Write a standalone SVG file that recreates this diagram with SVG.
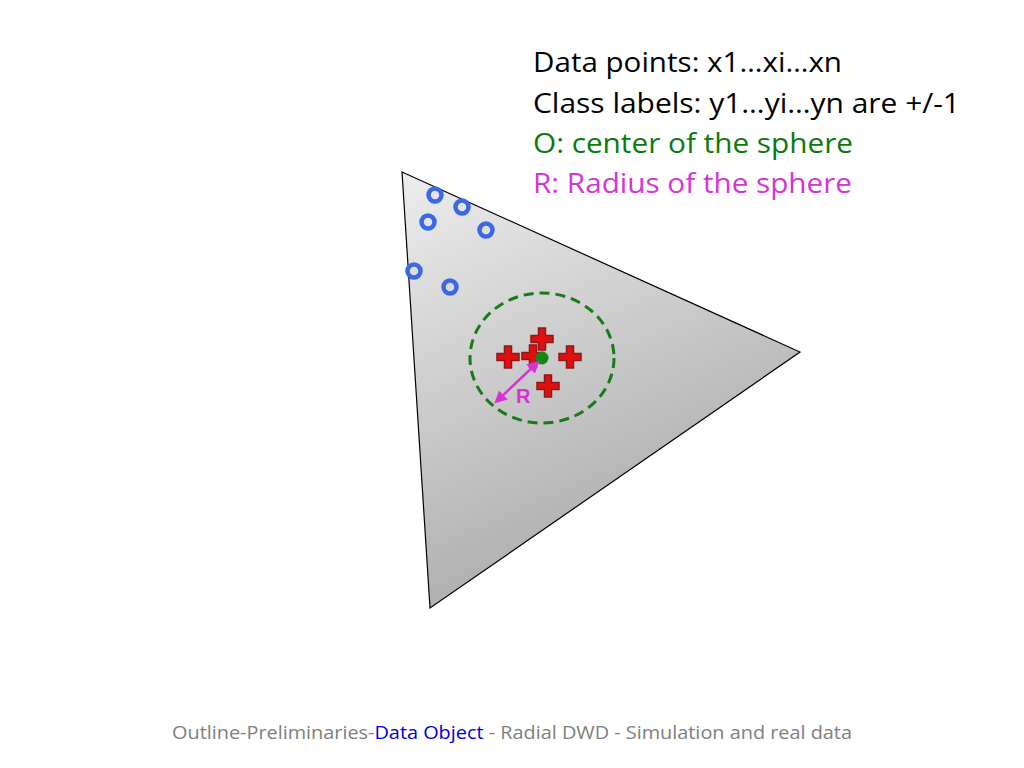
<svg xmlns="http://www.w3.org/2000/svg" width="1024" height="768" viewBox="0 0 1024 768">
<style>
.t{font-family:"Open Sans","Liberation Sans",sans-serif;font-size:27px}
.ring{fill:none;stroke:#3b68ea;stroke-width:4.5}
.cross{fill:#e01010;stroke:#8a1a1a;stroke-width:1.5}
.foot{font-family:"Open Sans","Liberation Sans",sans-serif;font-size:18px;fill:#808080}
</style>
<defs>
<linearGradient id="g" x1="0" y1="0" x2="0.4" y2="1">
<stop offset="0" stop-color="#ededed"/>
<stop offset="1" stop-color="#a9a9a9"/>
</linearGradient>
<marker id="ah" viewBox="0 0 10 10" refX="7" refY="5" markerWidth="5" markerHeight="5" orient="auto-start-reverse">
<path d="M0,0 L10,5 L0,10 z" fill="#d633d6"/>
</marker>
<path id="cr" d="M-3.5,-11 H3.5 V-3.5 H11 V3.5 H3.5 V11 H-3.5 V3.5 H-11 V-3.5 H-3.5 Z"/>
</defs>
<rect width="1024" height="768" fill="#fff"/>
<g id="triangle"><polygon points="402,172 800,352 430,608" fill="url(#g)" stroke="#000" stroke-width="1.2"/></g>
<g id="rings">
<circle class="ring" cx="435" cy="195" r="6.5"/>
<circle class="ring" cx="462" cy="207" r="6.5"/>
<circle class="ring" cx="428" cy="222" r="6.5"/>
<circle class="ring" cx="486" cy="230" r="6.5"/>
<circle class="ring" cx="414" cy="271" r="6.5"/>
<circle class="ring" cx="450" cy="287" r="6.5"/>
</g>
<g id="sphere"><ellipse cx="542" cy="358" rx="72" ry="65" fill="none" stroke="#1a7a1a" stroke-width="3" stroke-dasharray="10,6"/></g>
<g id="crosses">
<use href="#cr" class="cross" x="542" y="339"/>
<use href="#cr" class="cross" x="508" y="357"/>
<use href="#cr" class="cross" x="533" y="356"/>
<use href="#cr" class="cross" x="570" y="357"/>
<use href="#cr" class="cross" x="548" y="386"/>
</g>
<g id="center"><circle cx="542" cy="358" r="6.5" fill="#118811"/></g>
<g id="connectors"><line x1="537" y1="363" x2="497" y2="401" stroke="#d633d6" stroke-width="2.5" marker-start="url(#ah)" marker-end="url(#ah)"/></g>
<g id="rlabel"><text x="516" y="403" font-family="Liberation Sans,sans-serif" font-weight="bold" font-size="20" fill="#d633d6">R</text></g>
<g id="legend">
<text class="t" x="533" y="72" textLength="309" lengthAdjust="spacingAndGlyphs" fill="#000">Data points: x1…xi…xn</text>
<text class="t" x="533" y="113" textLength="427" lengthAdjust="spacingAndGlyphs" fill="#000">Class labels: y1…yi…yn are +/-1</text>
<text class="t" x="533" y="153" textLength="320" lengthAdjust="spacingAndGlyphs" fill="#0b7a0b">O: center of the sphere</text>
<text class="t" x="533" y="193" textLength="319" lengthAdjust="spacingAndGlyphs" fill="#d633d6">R: Radius of the sphere</text>
</g>
<g id="footer"><text class="foot" x="172" y="739" textLength="680" lengthAdjust="spacingAndGlyphs">Outline-Preliminaries-<tspan fill="#0000dd">Data Object</tspan> - Radial DWD - Simulation and real data</text></g>
</svg>
